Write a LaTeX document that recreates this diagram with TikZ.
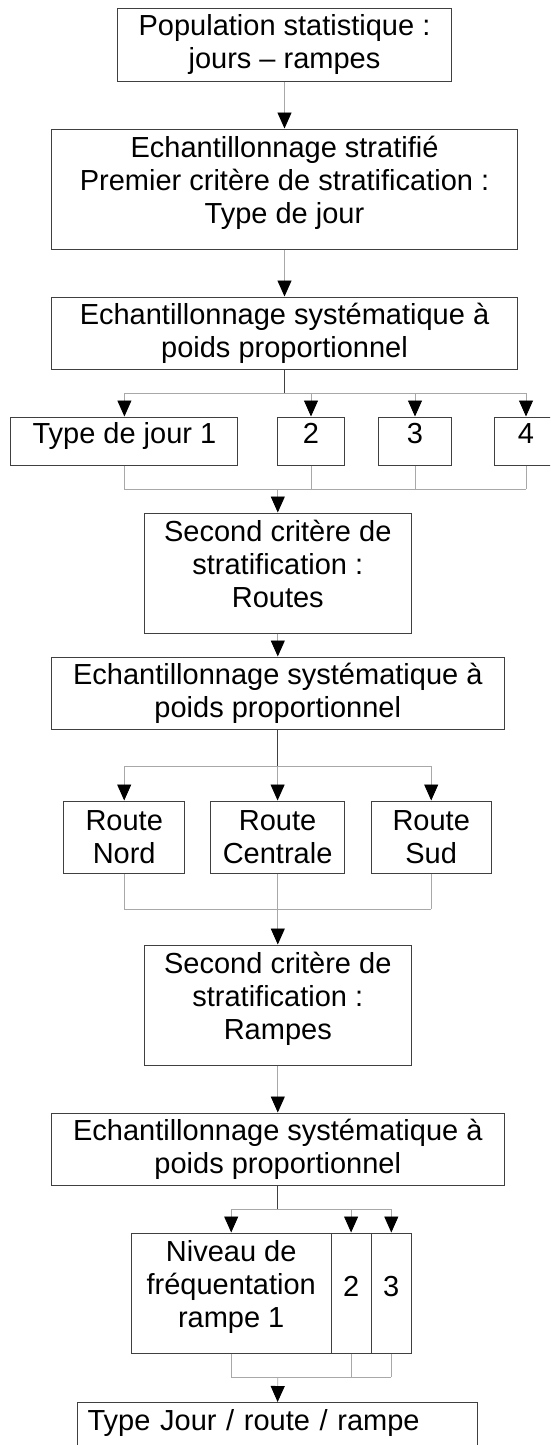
\documentclass[tikz,border=0pt]{standalone}
\usepackage{fontspec}
\setmainfont{Liberation Sans}
\usetikzlibrary{arrows.meta}
\usepackage{xcolor}
\definecolor{boxgray}{HTML}{404040}
\definecolor{linegray}{HTML}{A8A8A8}
\tikzset{
    box/.style={
        draw=boxgray,
        line width=1pt,
        inner sep=0pt,
        align=center,
        minimum height=72pt
    },
    tall/.style={minimum height=120pt, text depth=19pt},
    small/.style={minimum height=48pt, text height=21pt, text depth=17pt},
    digit/.style={minimum height=120pt, text height=21pt, text depth=14pt},
    wire/.style={draw=linegray, line width=0.9pt},
    trunk/.style={draw=boxgray, line width=0.9pt},
    arr/.style={wire, -{Triangle[width=14pt,length=16pt,color=black]}}
}

\begin{document}
\begin{tikzpicture}[x={(1pt,0pt)}, y={(0pt,-1pt)},
    font=\fontsize{29}{33}\selectfont]
        \useasboundingbox (0,0) rectangle (550,1445);
        \clip (0,0) rectangle (550,1445);
        % first stage: type of day
        \node[box, minimum width=334pt] (pop) at (284.5,45)
            {Population statistique :\\jours -- rampes};
        \node[box, tall, minimum width=466.5pt] (strat) at (284.5,189)
            {Echantillonnage stratifié\\Premier critère de stratification :\\Type de jour};
        \node[box, minimum width=466.5pt] (ech1) at (284.5,333)
            {Echantillonnage systématique à\\poids proportionnel};
        \node[box, small, minimum width=227pt] (t1) at (124.4,441) {Type de jour 1};
        \node[box, small, minimum width=67pt] (t2) at (311,441) {2};
        \node[box, small, minimum width=72.6pt] (t3) at (415,441) {3};
        \node[box, small, minimum width=64pt] (t4) at (526,441) {4};
        \coordinate (br1) at (284.5,393);
        \coordinate (mg1) at (277.8,489);
        % second stage: roads
        \node[box, tall, minimum width=267pt] (sc1) at (277.8,573)
            {Second critère de\\stratification :\\Routes};
        \node[box, minimum width=453pt] (ech2) at (277.8,693)
            {Echantillonnage systématique à\\poids proportionnel};
        \node[box, minimum width=120.6pt] (rn) at (124.2,837) {Route\\Nord};
        \node[box, minimum width=133.6pt] (rc) at (277.6,837) {Route\\Centrale};
        \node[box, minimum width=120.3pt] (rs) at (431.2,837) {Route\\Sud};
        \coordinate (br2) at (277.8,766);
        \coordinate (mg2) at (277.8,909);
        % third stage: ramps
        \node[box, tall, minimum width=267pt] (sc2) at (277.8,1005)
            {Second critère de\\stratification :\\Rampes};
        \node[box, minimum width=453pt] (ech3) at (277.8,1149)
            {Echantillonnage systématique à\\poids proportionnel};
        \node[box, tall, minimum width=200pt] (niv) at (231.2,1293)
            {Niveau de\\fréquentation\\rampe 1};
        \node[box, digit, minimum width=40pt] (n2) at (351.1,1293) {2};
        \node[box, digit, minimum width=40.3pt] (n3) at (391.3,1293) {3};
        \coordinate (br3) at (277.8,1209);
        \coordinate (mg3) at (277.8,1377);
        \node[box, anchor=north, align=left, minimum width=400pt,
            text width=380pt, inner xsep=10pt, inner ysep=7pt,
            text height=21pt, text depth=51pt] (fin) at (277.6,1402)
            {Type Jour / route / rampe};
        % connectors
        \draw[arr] (pop) -- (strat);
        \draw[arr] (strat) -- (ech1);
        \draw[trunk] (ech1) -- (br1);
        \draw[wire] (t1.north |- br1) -- (t4.north |- br1);
        \foreach \n in {t1,t2,t3,t4} {
            \draw[arr] (\n.north |- br1) -- (\n.north);
            \draw[wire] (\n.south) -- (\n.south |- mg1);
        }
        \draw[wire] (t1.south |- mg1) -- (t4.south |- mg1);
        \draw[arr] (mg1) -- (sc1.north);
        \draw[arr] (sc1) -- (ech2);
        \draw[trunk] (ech2) -- (br2);
        \draw[wire] (rn.north |- br2) -- (rs.north |- br2);
        \foreach \n in {rn,rc,rs} {
            \draw[arr] (\n.north |- br2) -- (\n.north);
            \draw[wire] (\n.south) -- (\n.south |- mg2);
        }
        \draw[wire] (rn.south |- mg2) -- (rs.south |- mg2);
        \draw[arr] (mg2) -- (sc2.north);
        \draw[arr] (sc2) -- (ech3);
        \draw[trunk] (ech3) -- (br3);
        \draw[wire] (niv.north |- br3) -- (n3.north |- br3);
        \foreach \n in {niv,n2,n3} {
            \draw[arr] (\n.north |- br3) -- (\n.north);
            \draw[wire] (\n.south) -- (\n.south |- mg3);
        }
        \draw[wire] (niv.south |- mg3) -- (n3.south |- mg3);
        \draw[arr] (mg3) -- (fin.north);
\end{tikzpicture}
\end{document}
